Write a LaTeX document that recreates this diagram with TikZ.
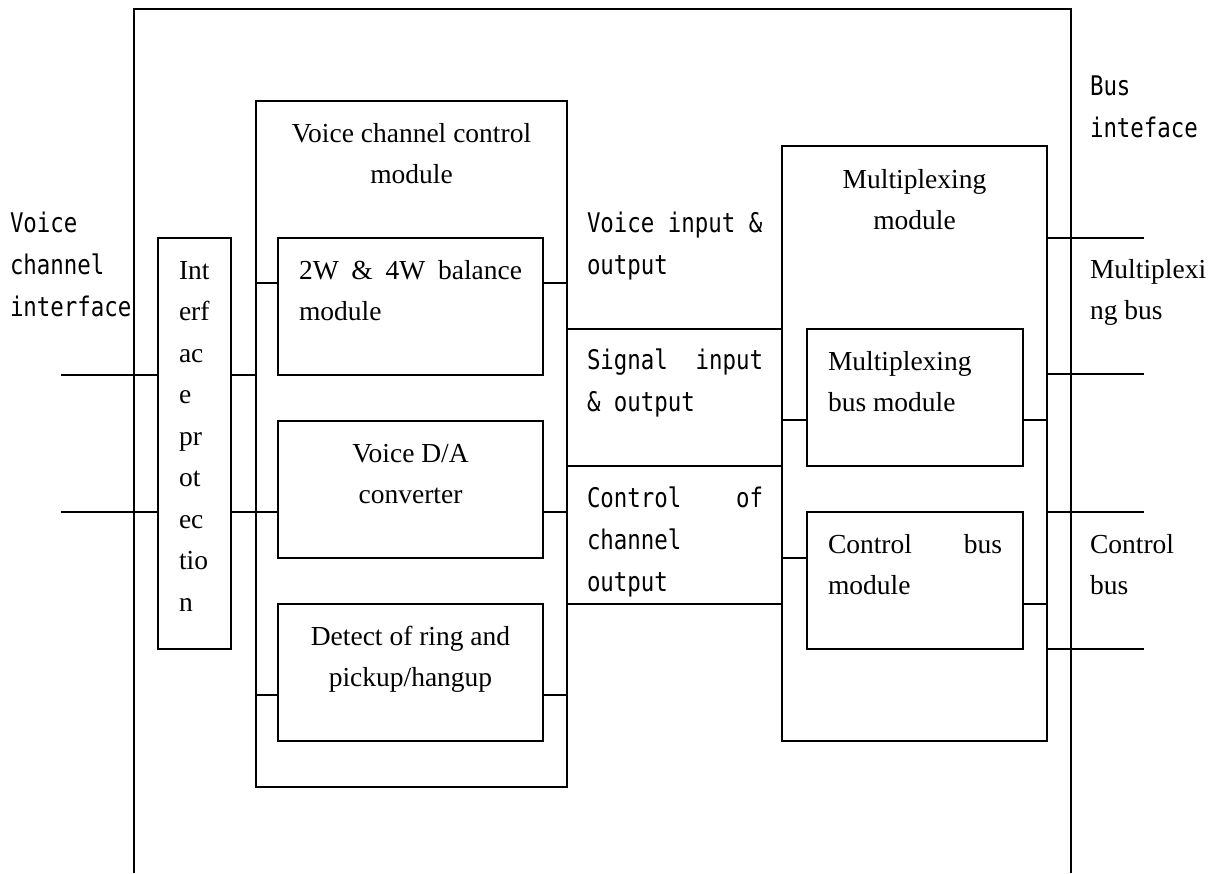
\documentclass[tikz,border=0pt]{standalone}
\usepackage{fontspec}
\setmainfont{Liberation Serif}
\newfontfamily\monof[FakeStretch=0.83]{DejaVu Sans Mono}
% a block of lines whose baseline is the baseline of its first line
\newcommand\textstack[3]{\vtop{\hsize=#1\relax\parindent=0pt\parskip=0pt #2\leavevmode#3\par}}
\begin{document}
\begin{tikzpicture}[
  x=1pt, y=-1pt,
  wire/.style={line width=1.6pt, line cap=rect},
  box/.style={draw, line width=1.6pt, rectangle, inner sep=0pt, outer sep=0pt, anchor=north west},
  serif/.style={inner sep=0pt, outer sep=0pt, anchor=base west, font=\fontsize{27.5pt}{41.5pt}\selectfont},
  mono/.style={inner sep=0pt, outer sep=0pt, anchor=base west, font=\monof\fontsize{27pt}{42pt}\selectfont},
]
\useasboundingbox (0,0) rectangle (1215,873);

% outer frame, open at the bottom
\draw[line width=1.6pt, line join=miter] (134,873) -- (134,9) -- (1071,9) -- (1071,873);

% blocks
\node[box, minimum width=73pt,  minimum height=411pt] (ip)   at (158,238) {};
\node[box, minimum width=311pt, minimum height=686pt] (ctl)  at (256,101) {};
\node[box, minimum width=265pt, minimum height=137pt] (bal)  at (278,238) {};
\node[box, minimum width=265pt, minimum height=137pt] (da)   at (278,421) {};
\node[box, minimum width=265pt, minimum height=137pt] (det)  at (278,604) {};
\node[box, minimum width=265pt, minimum height=595pt] (mux)  at (782,146) {};
\node[box, minimum width=216pt, minimum height=137pt] (mbus) at (807,329) {};
\node[box, minimum width=216pt, minimum height=137pt] (cbus) at (807,512) {};

% levels of the connectors
\coordinate (inA)  at (62,375);
\coordinate (inB)  at (62,512);
\coordinate (lvA)  at (0,283);
\coordinate (lvB)  at (0,695);
\coordinate (midA) at (0,329);
\coordinate (midB) at (0,466);
\coordinate (midC) at (0,604);
\coordinate (lvC)  at (0,420);
\coordinate (lvD)  at (0,558);
\coordinate (outA) at (1143,238);
\coordinate (outB) at (1143,374);
\coordinate (outC) at (1143,512);
\coordinate (outD) at (1143,649);

% voice channel side
\draw[wire] (inA) -- (ip.west |- inA);
\draw[wire] (inB) -- (ip.west |- inB);
\draw[wire] (ip.east |- inA) -- (ctl.west |- inA);
\draw[wire] (ip.east |- inB) -- (ctl.west |- inB);
\draw[wire] (ctl.west |- lvA) -- (bal.west |- lvA);
\draw[wire] (ctl.west |- inB) -- (da.west |- inB);
\draw[wire] (ctl.west |- lvB) -- (det.west |- lvB);
\draw[wire] (bal.east |- lvA) -- (ctl.east |- lvA);
\draw[wire] (da.east |- inB) -- (ctl.east |- inB);
\draw[wire] (det.east |- lvB) -- (ctl.east |- lvB);

% between the two modules
\draw[wire] (ctl.east |- midA) -- (mux.west |- midA);
\draw[wire] (ctl.east |- midB) -- (mux.west |- midB);
\draw[wire] (ctl.east |- midC) -- (mux.west |- midC);

% multiplexing side
\draw[wire] (mux.west |- lvC) -- (mbus.west |- lvC);
\draw[wire] (mux.west |- lvD) -- (cbus.west |- lvD);
\draw[wire] (mbus.east |- lvC) -- (mux.east |- lvC);
\draw[wire] (cbus.east |- midC) -- (mux.east |- midC);
\draw[wire] (mux.east |- outA) -- (outA);
\draw[wire] (mux.east |- outB) -- (outB);
\draw[wire] (mux.east |- outC) -- (outC);
\draw[wire] (mux.east |- outD) -- (outD);

% texts inside the blocks
\node[serif] (tip) at ([xshift=21pt,yshift=-41pt]ip.north west)
  {\textstack{60pt}{\raggedright}{Int\\erf\\ac\\e\\pr\\ot\\ec\\tio\\n}};
\node[serif] (tctl) at ([yshift=-41pt]ctl.north west)
  {\textstack{311pt}{\centering}{Voice channel control\\module}};
\node[serif] (tbal) at ([xshift=21pt,yshift=-41pt]bal.north west)
  {\textstack{223pt}{\raggedright}{\hbox to 223pt{2W\hfill\&\hfill 4W\hfill balance}\\module}};
\node[serif] (tda) at ([yshift=-41pt]da.north west)
  {\textstack{265pt}{\centering}{Voice D/A\\converter}};
\node[serif] (tdet) at ([yshift=-41pt]det.north west)
  {\textstack{265pt}{\centering}{Detect of ring and\\pickup/hangup}};
\node[serif] (tmux) at ([yshift=-42pt]mux.north west)
  {\textstack{265pt}{\centering}{Multiplexing\\module}};
\node[serif] (tmbus) at ([xshift=21pt,yshift=-41pt]mbus.north west)
  {\textstack{174pt}{\raggedright}{Multiplexing\\bus module}};
\node[serif] (tcbus) at ([xshift=21pt,yshift=-41pt]cbus.north west)
  {\textstack{174pt}{\raggedright}{\hbox to 174pt{Control\hfill bus}\\module}};

% interface and signal labels
\node[mono] (lvci) at (10,232)
  {\textstack{130pt}{\raggedright}{Voice\\channel\\interface}};
\node[mono] (lvio) at (587,232)
  {\textstack{180pt}{\raggedright}{Voice input \&\\output}};
\node[mono] (lsio) at (587,369)
  {\textstack{180pt}{\raggedright}{\hbox to 176pt{Signal\hfill input}\\\& output}};
\node[mono] (lcco) at (587,507)
  {\textstack{180pt}{\raggedright}{\hbox to 176pt{Control\hfill of}\\channel\\output}};
\node[mono] (lbus) at (1090,95)
  {\textstack{120pt}{\raggedright}{Bus\\inteface}};
\node[serif] (lmb) at (1090,278)
  {\textstack{124pt}{\raggedright}{Multiplexi\\ng bus}};
\node[serif] (lcb) at (1090,553)
  {\textstack{124pt}{\raggedright}{Control\\bus}};
\end{tikzpicture}
\end{document}
